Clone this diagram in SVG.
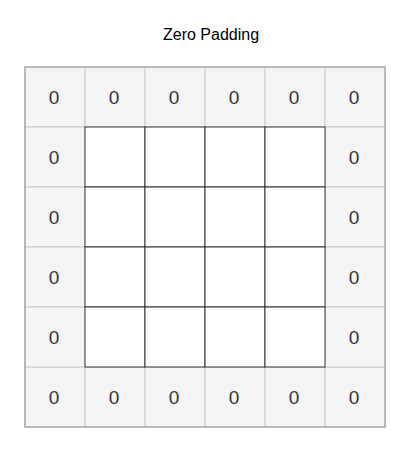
<svg xmlns="http://www.w3.org/2000/svg" width="402" height="453" viewBox="0 0 402 453">
<style>
.pad{fill:#f4f4f4;stroke:#cccccc;stroke-width:1}
.in{fill:#ffffff;stroke:#333333;stroke-width:1}
.t{font-family:"Liberation Sans",Arial,sans-serif;font-size:19px;fill:#333333;text-anchor:middle}
.title{font-family:"Liberation Sans",Arial,sans-serif;font-size:16px;fill:#000000;text-anchor:middle}
</style>
<rect width="402" height="453" fill="#ffffff"/>
<text class="title" x="211" y="40">Zero Padding</text>
<g id="padding">
<rect class="pad" x="25" y="67" width="60" height="60"/>
<rect class="pad" x="85" y="67" width="60" height="60"/>
<rect class="pad" x="145" y="67" width="60" height="60"/>
<rect class="pad" x="205" y="67" width="60" height="60"/>
<rect class="pad" x="265" y="67" width="60" height="60"/>
<rect class="pad" x="325" y="67" width="60" height="60"/>
<rect class="pad" x="25" y="367" width="60" height="60"/>
<rect class="pad" x="85" y="367" width="60" height="60"/>
<rect class="pad" x="145" y="367" width="60" height="60"/>
<rect class="pad" x="205" y="367" width="60" height="60"/>
<rect class="pad" x="265" y="367" width="60" height="60"/>
<rect class="pad" x="325" y="367" width="60" height="60"/>
<rect class="pad" x="25" y="127" width="60" height="60"/>
<rect class="pad" x="25" y="187" width="60" height="60"/>
<rect class="pad" x="25" y="247" width="60" height="60"/>
<rect class="pad" x="25" y="307" width="60" height="60"/>
<rect class="pad" x="325" y="127" width="60" height="60"/>
<rect class="pad" x="325" y="187" width="60" height="60"/>
<rect class="pad" x="325" y="247" width="60" height="60"/>
<rect class="pad" x="325" y="307" width="60" height="60"/>
</g>
<rect x="25" y="67" width="360" height="360" fill="none" stroke="#aaaaaa" stroke-width="1.5"/>
<g id="inner">
<rect class="in" x="85" y="127" width="60" height="60"/>
<rect class="in" x="145" y="127" width="60" height="60"/>
<rect class="in" x="205" y="127" width="60" height="60"/>
<rect class="in" x="265" y="127" width="60" height="60"/>
<rect class="in" x="85" y="187" width="60" height="60"/>
<rect class="in" x="145" y="187" width="60" height="60"/>
<rect class="in" x="205" y="187" width="60" height="60"/>
<rect class="in" x="265" y="187" width="60" height="60"/>
<rect class="in" x="85" y="247" width="60" height="60"/>
<rect class="in" x="145" y="247" width="60" height="60"/>
<rect class="in" x="205" y="247" width="60" height="60"/>
<rect class="in" x="265" y="247" width="60" height="60"/>
<rect class="in" x="85" y="307" width="60" height="60"/>
<rect class="in" x="145" y="307" width="60" height="60"/>
<rect class="in" x="205" y="307" width="60" height="60"/>
<rect class="in" x="265" y="307" width="60" height="60"/>
</g>
<g id="zeros">
<text class="t" x="54" y="104">0</text>
<text class="t" x="114" y="104">0</text>
<text class="t" x="174" y="104">0</text>
<text class="t" x="234" y="104">0</text>
<text class="t" x="294" y="104">0</text>
<text class="t" x="354" y="104">0</text>
<text class="t" x="54" y="404">0</text>
<text class="t" x="114" y="404">0</text>
<text class="t" x="174" y="404">0</text>
<text class="t" x="234" y="404">0</text>
<text class="t" x="294" y="404">0</text>
<text class="t" x="354" y="404">0</text>
<text class="t" x="54" y="164">0</text>
<text class="t" x="54" y="224">0</text>
<text class="t" x="54" y="284">0</text>
<text class="t" x="54" y="344">0</text>
<text class="t" x="354" y="164">0</text>
<text class="t" x="354" y="224">0</text>
<text class="t" x="354" y="284">0</text>
<text class="t" x="354" y="344">0</text>
</g>
</svg>
